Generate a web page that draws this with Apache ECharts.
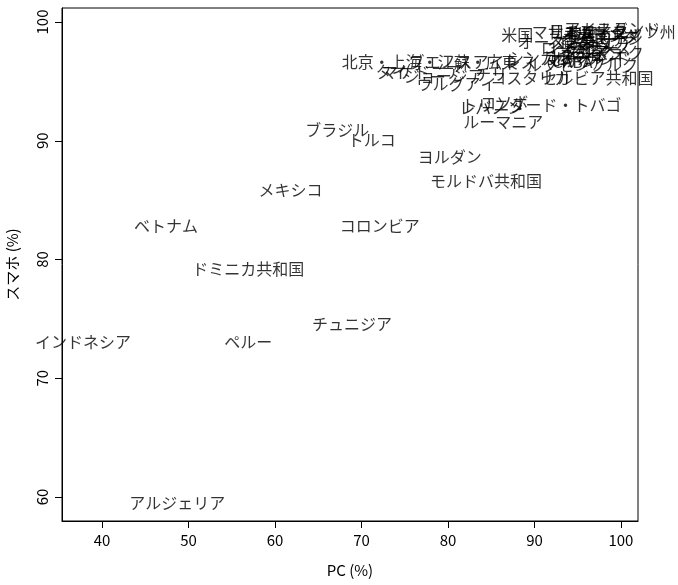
<!DOCTYPE html>
<html><head><meta charset="utf-8">
<script src="https://cdn.jsdelivr.net/npm/echarts@6/dist/echarts.min.js"></script>
<style>body{margin:0}#c{width:678px;height:585px}</style>
</head><body><div id="c"></div>
<script>
const names = ['アルジェリア','インドネシア','ペルー','チュニジア','ドミニカ共和国','ベトナム','コロンビア','メキシコ','モルドバ共和国','ヨルダン','ブラジル','トルコ','ルーマニア','レバノン','トリニダード・トバゴ','コソボ','北京・上海・江蘇・広東','ブエノスアイレス（CABA）','タイ','マケドニア','ジョージア','ウルグアイ','チリ','コスタリカ','セルビア共和国','米国','日本','韓国','英国','ドイツ','フランス','オーストラリア','カナダ','イタリア','スペイン','ロシア','オランダ','スウェーデン','デンマーク','ノルウェー','シンガポール','香港','マカオ','台湾','エストニア','スイス','ポーランド','チェコ','アイスランド','ルクセンブルク','マサチューセッツ州'];
const pc = [48.7,37.8,56.9,68.9,56.9,47.4,72.1,61.8,84.4,80.2,67.2,71.2,86.4,85.0,90.8,86.5,77.9,87.0,73.5,77.0,79.5,81.0,85.0,89.5,97.3,88.0,93.5,95.5,97.0,96.0,97.5,94.5,98.0,95.0,96.5,93.5,98.5,97.0,98.0,97.5,92.5,95.0,94.0,96.0,97.0,98.0,96.5,97.5,99.0,95.5,98.0];
const sp = [59.5,73.1,73.1,74.6,79.2,82.8,82.8,85.9,86.6,88.6,90.9,90.1,91.6,92.8,93.0,93.2,96.6,96.6,95.8,95.8,95.5,94.8,95.6,95.3,95.3,98.9,99.2,99.0,98.5,98.0,97.8,98.3,99.3,97.5,97.2,97.8,98.8,98.6,97.4,99.1,97.0,98.5,96.8,97.6,98.2,99.0,96.9,97.3,99.4,96.4,99.2];
const xTicks = [40,50,60,70,80,90,100];
const yTicks = [60,70,80,90,100];

const font = '"Noto Sans CJK JP", sans-serif';
const chart = echarts.init(document.getElementById('c'));
chart.setOption({
  animation: false,
  grid: {left: 62, right: 40, top: 8, bottom: 64, outerBoundsMode: 'none', show: true, borderColor: '#000', borderWidth: 1},
  xAxis: {
    type: 'value', min: 35.38, max: 101.97, name: 'PC (%)', nameLocation: 'middle', nameGap: 42,
    nameTextStyle: {fontFamily: font, fontSize: 15, color: '#000'},
    splitLine: {show: false},
    axisLine: {show: true, onZero: false, lineStyle: {color: '#000'}},
    axisTick: {show: true, length: 7, customValues: xTicks, lineStyle: {color: '#000'}},
    axisLabel: {customValues: xTicks, fontFamily: font, fontSize: 15, color: '#000', margin: 12}
  },
  yAxis: {
    type: 'value', min: 57.98, max: 101.18, name: 'スマホ (%)', nameLocation: 'middle', nameGap: 42,
    nameTextStyle: {fontFamily: font, fontSize: 15, color: '#000'},
    splitLine: {show: false},
    axisLine: {show: true, onZero: false, lineStyle: {color: '#000'}},
    axisTick: {show: true, length: 7, customValues: yTicks, lineStyle: {color: '#000'}},
    axisLabel: {customValues: yTicks, rotate: 90, fontFamily: font, fontSize: 15, color: '#000', margin: 12}
  },
  series: [{
    type: 'scatter', symbolSize: 0,
    data: names.map((n, i) => ({value: [pc[i], sp[i]], name: n})),
    label: {show: true, position: 'inside', formatter: p => p.name, fontFamily: font, fontSize: 16, color: '#000'}
  }]
});
</script></body></html>
